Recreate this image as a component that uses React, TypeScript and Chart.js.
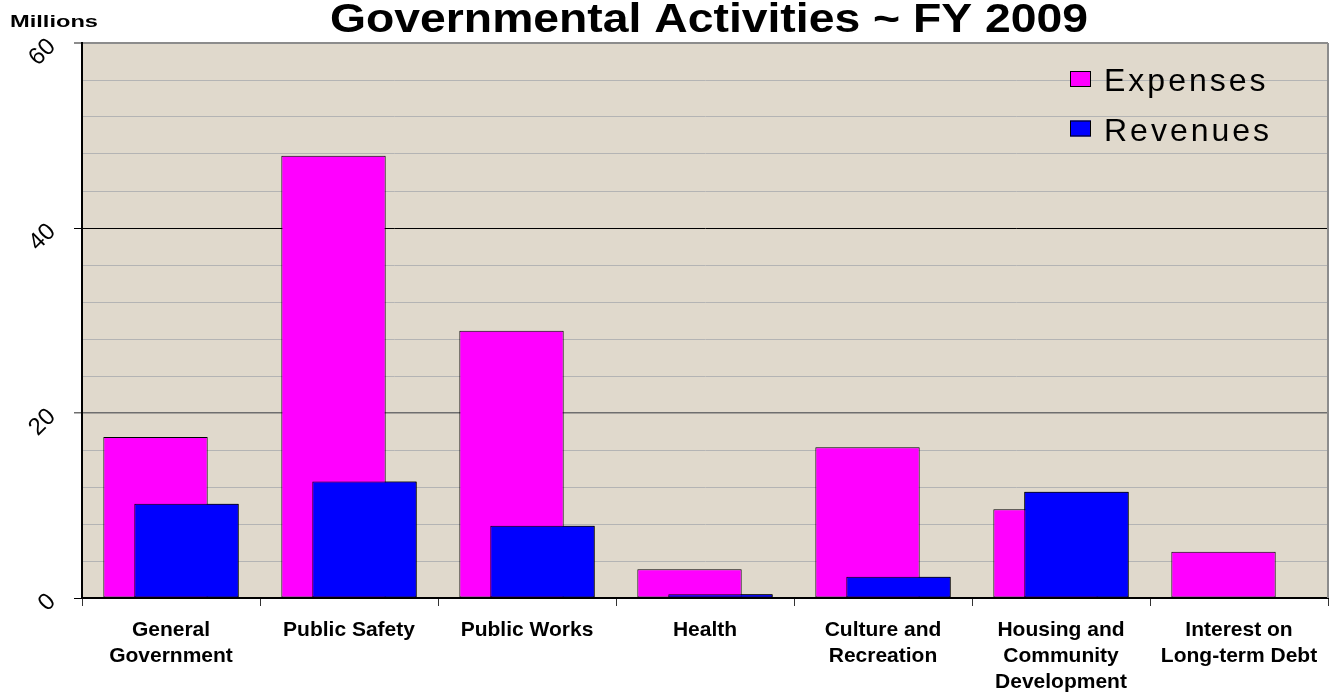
import React, { useEffect, useRef } from 'react';
import { Chart, registerables } from 'chart.js';

Chart.register(...registerables);

// ---- data ----
const categories: string[][] = [
  ['General', 'Government'],
  ['Public Safety'],
  ['Public Works'],
  ['Health'],
  ['Culture and', 'Recreation'],
  ['Housing and', 'Community', 'Development'],
  ['Interest on', 'Long-term Debt'],
];
const expenses: number[] = [17.4, 47.8, 28.9, 3.1, 16.3, 9.6, 5.0];
const revenues: number[] = [10.2, 12.6, 7.8, 0.4, 2.3, 11.5, 0];
const seriesNames: string[] = ['Expenses', 'Revenues'];
const yTickLabels: number[] = [0, 20, 40, 60];
const chartTitle = 'Governmental Activities ~ FY 2009';
const unitLabel = 'Millions';

// ---- styles ----
const FONT = '"Liberation Sans", Arial, sans-serif';
const PLOT_BG = '#E0D9CC';
const PINK = '#FF00FF';
const BLUE = '#0000FF';

const gridColorFor = (v: number): string => {
  if (v === 0 || v === 40) return '#000000';
  if (v === 20) return '#6E6E6E';
  if (v === 60) return '#8C8C8C';
  return '#B4B4B4';
};

function drawFitted(
  ctx: CanvasRenderingContext2D,
  text: string,
  x: number,
  y: number,
  font: string,
  width: number,
  align: CanvasTextAlign
) {
  ctx.save();
  ctx.font = font;
  const w = ctx.measureText(text).width;
  ctx.translate(x, y);
  ctx.scale(width / w, 1);
  ctx.textAlign = align;
  ctx.textBaseline = 'alphabetic';
  ctx.fillStyle = '#000';
  ctx.fillText(text, 0, 0);
  ctx.restore();
}

const decorPlugin = {
  id: 'decor',
  beforeDraw(chart: any) {
    const { ctx, chartArea } = chart;
    ctx.save();
    ctx.fillStyle = PLOT_BG;
    ctx.fillRect(chartArea.left, chartArea.top, chartArea.right - chartArea.left, chartArea.bottom - chartArea.top);
    ctx.restore();
  },
  beforeDatasetsDraw(chart: any) {
    const { ctx, chartArea } = chart;
    ctx.save();
    ctx.strokeStyle = '#8C8C8C';
    ctx.lineWidth = 2;
    ctx.beginPath();
    ctx.moveTo(chartArea.right, chartArea.top);
    ctx.lineTo(chartArea.right, chartArea.bottom);
    ctx.stroke();
    ctx.restore();
  },
  afterDatasetsDraw(chart: any) {
    // revenues bars sit in front of the expenses bars
    const meta = chart.getDatasetMeta(1);
    if (meta && meta.controller) meta.controller.draw();
  },
  afterDraw(chart: any) {
    const { ctx } = chart;
    drawFitted(ctx, chartTitle, 709, 32, `bold 40px ${FONT}`, 758, 'center');
    drawFitted(ctx, unitLabel, 10, 27, `bold 17px ${FONT}`, 88, 'left');
    const ds = chart.data.datasets;
    ds.forEach((d: any, i: number) => {
      const by = 71 + i * 49.5;
      ctx.save();
      ctx.fillStyle = d.backgroundColor;
      ctx.fillRect(1070, by, 21, 16);
      ctx.strokeStyle = '#000';
      ctx.lineWidth = 1;
      ctx.strokeRect(1070.5, by + 0.5, 20, 15);
      ctx.restore();
      ctx.save();
      ctx.font = `32px ${FONT}`;
      (ctx as any).letterSpacing = '3px';
      ctx.fillStyle = '#000';
      ctx.textAlign = 'left';
      ctx.textBaseline = 'alphabetic';
      ctx.fillText(d.label, 1104, 91 + i * 49.5);
      ctx.restore();
    });
  },
};

export default function App() {
  const ref = useRef<HTMLCanvasElement | null>(null);

  useEffect(() => {
    if (!ref.current) return;
    const chart = new Chart(ref.current, {
      type: 'bar',
      data: {
        labels: categories,
        datasets: [
          {
            label: seriesNames[0],
            data: expenses,
            backgroundColor: PINK,
            borderColor: '#000',
            borderWidth: (c: any) => (c.raw === 0 ? 0 : 1),
            borderSkipped: false,
          },
          {
            label: seriesNames[1],
            data: revenues,
            backgroundColor: BLUE,
            borderColor: '#000',
            borderWidth: (c: any) => (c.raw === 0 ? 0 : 1),
            borderSkipped: false,
          },
        ],
      },
      options: {
        responsive: false,
        animation: false,
        layout: { padding: { top: 43, right: 11, left: 0, bottom: 0 } },
        plugins: {
          legend: { display: false },
          title: { display: false },
          tooltip: { enabled: false },
        },
        datasets: {
          bar: { categoryPercentage: 0.348, barPercentage: 3.37 },
        },
        scales: {
          x: {
            type: 'category',
            offset: true,
            grid: {
              offset: true,
              drawOnChartArea: false,
              drawTicks: true,
              tickLength: 8,
              tickColor: '#333',
              tickWidth: 1,
            },
            border: { display: true, color: '#000', width: 2 },
            ticks: {
              color: '#000',
              font: { family: FONT, size: 21, weight: 'bold', lineHeight: 1.25 },
              padding: 11,
              maxRotation: 0,
              minRotation: 0,
              autoSkip: false,
            },
            afterFit: (s: any) => {
              s.height = 96;
            },
          },
          y: {
            min: 0,
            max: 60,
            ticks: {
              stepSize: 4,
              autoSkip: false,
              callback: (v: any) => (yTickLabels.includes(Number(v)) ? String(v) : ''),
              color: '#000',
              font: { family: FONT, size: 24 },
              minRotation: 45,
              maxRotation: 45,
              padding: 22,
            },
            grid: {
              color: (c: any) => gridColorFor(c.tick?.value),
              lineWidth: (c: any) => {
                const v = c.tick?.value;
                return v === 60 ? 2 : v === 20 ? 1.5 : 1;
              },
              tickColor: (c: any) => {
                const v = c.tick?.value;
                return yTickLabels.includes(v) ? gridColorFor(v) : 'rgba(0,0,0,0)';
              },
              tickLength: 8,
            },
            border: { color: '#000', width: 2 },
            afterFit: (s: any) => {
              s.width = 82;
            },
          },
        },
      } as any,
      plugins: [decorPlugin],
    });
    return () => chart.destroy();
  }, []);

  return (
    <div style={{ position: 'absolute', left: 0, top: 0, width: 1339, height: 694, background: '#fff' }}>
      <canvas ref={ref} width={1339} height={694} style={{ display: 'block' }} />
    </div>
  );
}
